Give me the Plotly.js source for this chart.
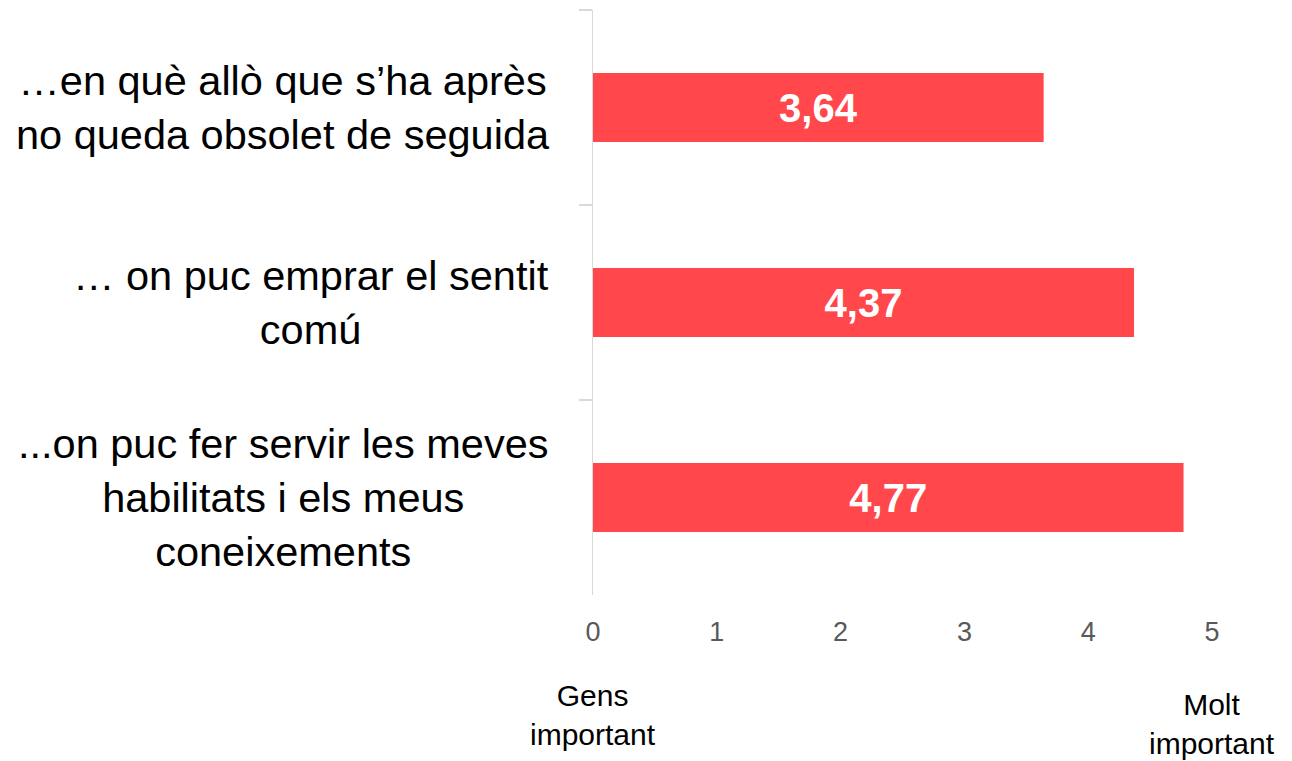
<!DOCTYPE html>
<html>
<head>
<meta charset="utf-8">
<script src="https://cdn.plot.ly/plotly-3.0.1.min.js"></script>
<style>html,body{margin:0;padding:0;background:#fff;}#chart{width:1292px;height:761px;}</style>
</head>
<body>
<div id="chart"></div>
<script>
// Data
const categories = [
  "…en què allò que s’ha après<br>no queda obsolet de seguida",
  "… on puc emprar el sentit<br>comú",
  "...on puc fer servir les meves<br>habilitats i els meus<br>coneixements"
];
const values = [3.64, 4.37, 4.77];
const xTickValues = [0, 1, 2, 3, 4, 5];
const axisEndLabels = ["Gens<br>important", "Molt<br>important"];
const axisEndValues = [0, 5];

const FONT = "'Liberation Sans', Arial, sans-serif";
const labelCenters = [-0.5008, -0.4556, -0.5008];

const trace = {
  type: 'bar',
  orientation: 'h',
  y: categories,
  x: values,
  marker: {color: '#FF474C'},
  texttemplate: '%{x:.2f}',
  textposition: 'inside',
  insidetextanchor: 'middle',
  textfont: {family: FONT, size: 40, color: '#FFFFFF', weight: 'bold'},
  hoverinfo: 'skip'
};

const annotations = categories.map((c, i) => ({
  xref: 'paper', yref: 'y',
  x: labelCenters[i], y: c,
  xanchor: 'center', yanchor: 'middle',
  align: 'center',
  text: c,
  showarrow: false,
  font: {family: FONT, size: 41.5, color: '#000000'}
}));

annotations.push({
  xref: 'x', yref: 'paper', x: axisEndValues[0], y: -0.205,
  xanchor: 'center', yanchor: 'middle', align: 'center',
  text: axisEndLabels[0], showarrow: false,
  font: {family: FONT, size: 30, color: '#000000'}
});
annotations.push({
  xref: 'x', yref: 'paper', x: axisEndValues[1], y: -0.221,
  xanchor: 'center', yanchor: 'middle', align: 'center',
  text: axisEndLabels[1], showarrow: false,
  font: {family: FONT, size: 30, color: '#000000'}
});

const layout = {
  width: 1292, height: 761,
  margin: {l: 593, r: 80, t: 10, b: 166, pad: 0},
  paper_bgcolor: '#FFFFFF', plot_bgcolor: '#FFFFFF',
  separators: ', ',
  showlegend: false,
  bargap: 0.646,
  font: {family: FONT},
  xaxis: {
    range: [0, 5],
    tickvals: xTickValues,
    ticktext: xTickValues.map(String),
    showgrid: false, zeroline: false, showline: false,
    ticks: '',
    ticklabelstandoff: 18,
    tickfont: {family: FONT, size: 27, color: '#595959'},
    fixedrange: true
  },
  yaxis: {
    type: 'category',
    autorange: 'reversed',
    showgrid: false, zeroline: false,
    showline: true, linecolor: '#D9D9D9', linewidth: 1.5,
    ticks: 'outside', tickson: 'boundaries', ticklen: 13,
    tickcolor: '#D9D9D9', tickwidth: 1.5,
    showticklabels: false,
    fixedrange: true
  },
  annotations: annotations
};

Plotly.newPlot('chart', [trace], layout, {displayModeBar: false, staticPlot: true});
</script>
</body>
</html>
